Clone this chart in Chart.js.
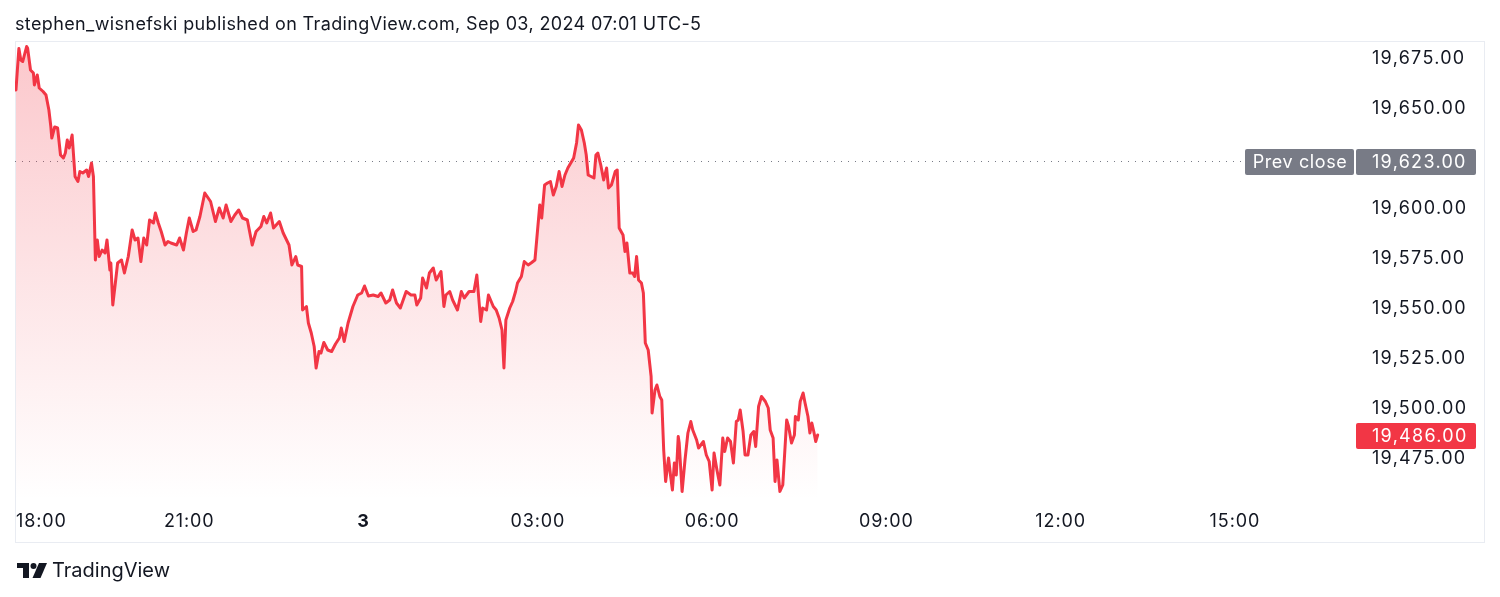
<!DOCTYPE html>
<html>
<head>
<meta charset="utf-8">
<title>NQ intraday - TradingView</title>
<script src="https://cdn.jsdelivr.net/npm/chart.js@4.4.1/dist/chart.umd.min.js"></script>
<style>
  html, body { margin: 0; padding: 0; background: #ffffff; }
  #wrap { width: 1500px; height: 597px; }
</style>
</head>
<body>
<div id="wrap"><canvas id="priceChart" width="1500" height="597"></canvas></div>
<script>
// Minutes after 18:00 (session open), one entry per traced point
const sessionMinutes = [
    1, 4, 6, 8, 12, 13, 16, 19, 20, 23, 25, 29, 32, 35, 37, 38, 41, 44, 47, 50,
    52, 54, 56, 59, 62, 65, 67, 70, 74, 76, 79, 81, 83, 85, 87, 90, 93, 95, 98, 99,
    101, 104, 106, 110, 113, 117, 121, 124, 127, 130, 133, 136, 139, 143, 145, 148, 151, 155, 158, 161,
    167, 170, 174, 177, 180, 184, 187, 191, 196, 202, 207, 211, 215, 218, 223, 227, 231, 235, 240, 245,
    249, 254, 257, 260, 264, 267, 273, 277, 283, 286, 290, 292, 296, 297, 301, 303, 306, 309, 311, 314,
    316, 319, 323, 327, 331, 335, 337, 340, 344, 349, 354, 358, 361, 365, 370, 375, 378, 383, 387, 390,
    394, 398, 404, 409, 413, 415, 419, 421, 425, 428, 432, 435, 440, 443, 445, 449, 452, 457, 461, 464,
    469, 474, 477, 481, 483, 487, 489, 494, 497, 500, 503, 505, 507, 511, 514, 517, 519, 523, 526, 530,
    533, 537, 539, 542, 544, 547, 550, 553, 556, 559, 562, 565, 568, 571, 574, 577, 580, 582, 585, 588,
    590, 592, 595, 598, 600, 602, 605, 608, 611, 613, 616, 620, 622, 624, 628, 630, 632, 635, 638, 640,
    642, 644, 647, 649, 651, 654, 657, 658, 661, 663, 666, 668, 670, 672, 675, 677, 679, 681, 683, 685,
    686, 689, 692, 695, 698, 700, 704, 706, 711, 714, 717, 720, 722, 725, 728, 731, 733, 736, 739, 742,
    745, 747, 749, 752, 754, 757, 760, 763, 765, 768, 771, 775, 778, 780, 783, 785, 787, 790, 793, 797,
    799, 802, 805, 806, 809, 811, 814, 816, 819, 821, 823, 825, 827, 829
];

// Price at each of those minutes
const prices = [
    19658.5, 19679.25, 19673.5, 19672.75, 19680.25, 19679.5, 19668.5, 19667, 19661, 19666,
    19659.5, 19657.75, 19656, 19648.5, 19640.25, 19634.5, 19640, 19639.5, 19626, 19624.5,
    19627, 19633.5, 19629.5, 19636, 19615.25, 19612.75, 19617.75, 19617, 19618.5, 19615.25,
    19622, 19615.25, 19573.5, 19583.5, 19575.25, 19578.5, 19577, 19583.5, 19568.5, 19572,
    19551, 19563.5, 19572, 19573.5, 19567, 19575.25, 19588.5, 19583.5, 19584.5, 19572.75,
    19584.5, 19581, 19593.5, 19592, 19597, 19592, 19587.75, 19581, 19582.75, 19582,
    19581, 19584.5, 19578.5, 19587, 19594.5, 19587.75, 19588.5, 19595.25, 19607, 19602.75,
    19592.75, 19599.5, 19594.5, 19601, 19592.75, 19596, 19598.5, 19594.5, 19593.5, 19581,
    19587.75, 19590.25, 19595.25, 19592, 19597, 19589.5, 19592.75, 19587, 19581, 19571,
    19575.25, 19571, 19570.25, 19548.5, 19550.25, 19542, 19537, 19530.25, 19519.5, 19527.75,
    19527, 19532.25, 19528.5, 19527.75, 19531.5, 19534.5, 19539.5, 19532.75, 19542, 19550.25,
    19556, 19557, 19560.5, 19555.5, 19556, 19555.25, 19557, 19552, 19553.5, 19558.5,
    19552, 19549.5, 19557.75, 19556, 19556, 19551, 19554.5, 19564.5, 19559.5, 19567,
    19569.5, 19563.5, 19567.75, 19550.25, 19556, 19557.75, 19553.5, 19548.5, 19557.75, 19554.5,
    19557.75, 19557.75, 19566, 19542.75, 19549.5, 19548.5, 19556, 19550.25, 19548.5, 19544.5,
    19538.5, 19519.5, 19543.5, 19549.5, 19552.75, 19557.75, 19562, 19565.25, 19572.75, 19571,
    19572, 19573.5, 19584.5, 19601, 19594.5, 19611, 19612, 19612.75, 19606, 19610.25,
    19617.75, 19610.25, 19616, 19619.5, 19622, 19624.5, 19632, 19641, 19638.5, 19632,
    19626, 19616, 19615.25, 19614.5, 19626, 19627, 19621, 19613.5, 19619.5, 19609.5,
    19611, 19617.75, 19618.5, 19589.5, 19586, 19577.75, 19582, 19567, 19567, 19565.25,
    19575.25, 19563.5, 19562, 19557, 19532, 19528.5, 19515.25, 19497, 19508.5, 19511,
    19505.25, 19503.5, 19478.5, 19462.75, 19474.5, 19466, 19458.5, 19472, 19466, 19485.25,
    19482, 19457.75, 19473.5, 19487, 19492.75, 19488.5, 19483.5, 19479.5, 19482.75, 19476,
    19472.75, 19458.5, 19477, 19468.5, 19461, 19484.5, 19477.75, 19484.5, 19482.75, 19472,
    19492.75, 19493.5, 19498.5, 19487.75, 19476, 19476, 19486, 19487.75, 19480.25, 19500.25,
    19505.25, 19502.75, 19499.5, 19488.5, 19484.5, 19462.75, 19473.5, 19457.75, 19461, 19493.5,
    19490.25, 19482, 19486, 19495.25, 19493.5, 19502.75, 19507, 19502, 19495.25, 19487,
    19492, 19487.75, 19482.75, 19486
];

const prevClose = 19623;
const priceTicks = [19475, 19500, 19525, 19550, 19575, 19600, 19625, 19650, 19675];
const timeTicks = [0, 180, 360, 540, 720, 900, 1080, 1260];
const timeLabels = ['18:00', '21:00', '3', '03:00', '06:00', '09:00', '12:00', '15:00'];

const titleText = 'stephen_wisnefski published on TradingView.com, Sep 03, 2024 07:01 UTC-5';

const RED = '#f23645';
const GREY = '#787b86';
const TEXT = '#131722';
const FONT = 'Inter, "Noto Sans", sans-serif';

function fmtPrice(v) {
    return v.toLocaleString('en-US', { minimumFractionDigits: 2, maximumFractionDigits: 2 });
}

function roundBox(ctx, x, y, w, h, r) {
    ctx.beginPath();
    if (ctx.roundRect) ctx.roundRect(x, y, w, h, r);
    else ctx.rect(x, y, w, h);
    ctx.fill();
}

// Page furniture, prev close line and price badges
const tvDecor = {
    id: 'tvDecor',
    beforeDraw(chart) {
        const ctx = chart.ctx;
        ctx.save();
        ctx.fillStyle = '#ffffff';
        ctx.fillRect(0, 0, chart.width, chart.height);

        ctx.fillStyle = TEXT;
        ctx.font = '18px ' + FONT;
        ctx.letterSpacing = '0.37px';
        ctx.textBaseline = 'middle';
        ctx.textAlign = 'left';
        ctx.fillText(titleText, 15, 25);

        // frame
        ctx.strokeStyle = '#e9ecf2';
        ctx.lineWidth = 1;
        ctx.strokeRect(15.5, 41.5, 1469, 501);

        // logo
        ctx.fillStyle = TEXT;
        ctx.fillRect(17, 563, 12, 5);
        ctx.fillRect(23, 563, 6, 15);
        ctx.beginPath();
        ctx.arc(33.5, 566, 3, 0, Math.PI * 2);
        ctx.fill();
        ctx.beginPath();
        ctx.moveTo(39, 563);
        ctx.lineTo(47, 563);
        ctx.lineTo(40.5, 578);
        ctx.lineTo(32.5, 578);
        ctx.closePath();
        ctx.fill();
        ctx.font = '20px ' + FONT;
        ctx.letterSpacing = '0px';
        ctx.fillText('TradingView', 52, 571);
        ctx.restore();
        // wider tracking for the price scale labels drawn next
        ctx.letterSpacing = '1.3px';
    },
    beforeDatasetsDraw(chart) {
        const ctx = chart.ctx;
        const area = chart.chartArea;
        const y = Math.round(chart.scales.y.getPixelForValue(prevClose)) + 0.5;
        ctx.save();
        ctx.strokeStyle = GREY;
        ctx.lineWidth = 1;
        ctx.setLineDash([1, 6]);
        ctx.beginPath();
        ctx.moveTo(area.left, y);
        ctx.lineTo(1245, y);
        ctx.stroke();
        ctx.restore();
    },
    afterDraw(chart) {
        const ctx = chart.ctx;
        const area = chart.chartArea;
        const xs = chart.scales.x;
        const ys = chart.scales.y;
        ctx.save();

        // time axis labels
        ctx.textBaseline = 'middle';
        ctx.textAlign = 'center';
        ctx.fillStyle = TEXT;
        ctx.letterSpacing = '0.9px';
        timeTicks.forEach((t, i) => {
            const bold = timeLabels[i] === '3';
            ctx.font = (bold ? 'bold ' : '') + '18px ' + FONT;
            const w = ctx.measureText(timeLabels[i]).width;
            const px = Math.max(xs.getPixelForValue(t), area.left + 1 + w / 2);
            ctx.fillText(timeLabels[i], px, 522);
        });

        // prev close badges
        ctx.font = '18px ' + FONT;
        ctx.letterSpacing = '0.6px';
        const pcY = ys.getPixelForValue(prevClose);
        ctx.fillStyle = GREY;
        roundBox(ctx, 1245, pcY - 12, 109, 26, 2);
        roundBox(ctx, 1356, pcY - 12, 120, 26, 2);
        ctx.fillStyle = '#ffffff';
        ctx.textAlign = 'center';
        ctx.fillText('Prev close', 1300, pcY + 2);
        ctx.letterSpacing = '1.3px';
        ctx.textAlign = 'left';
        ctx.fillText(fmtPrice(prevClose), 1372, pcY + 2);

        // last price badge
        const last = prices[prices.length - 1];
        const lY = ys.getPixelForValue(last);
        ctx.fillStyle = RED;
        roundBox(ctx, 1356, lY - 12, 120, 26, 2);
        ctx.fillStyle = '#ffffff';
        ctx.fillText(fmtPrice(last), 1372, lY + 2);
        ctx.restore();
        ctx.letterSpacing = '0px';
    }
};

function initializeChart() {
    const canvas = document.getElementById('priceChart');
    const points = sessionMinutes.map((m, i) => ({ x: m, y: prices[i] }));

    new Chart(canvas, {
        type: 'line',
        data: {
            datasets: [{
                label: 'NQ',
                data: points,
                borderColor: RED,
                borderWidth: 3,
                borderJoinStyle: 'round',
                borderCapStyle: 'round',
                pointRadius: 0,
                tension: 0,
                fill: 'start',
                backgroundColor(context) {
                    const { ctx, chartArea } = context.chart;
                    if (!chartArea) return 'rgba(242, 54, 69, 0.15)';
                    const g = ctx.createLinearGradient(0, chartArea.top, 0, chartArea.bottom);
                    g.addColorStop(0, 'rgba(242, 54, 69, 0.28)');
                    g.addColorStop(1, 'rgba(242, 54, 69, 0.0)');
                    return g;
                }
            }]
        },
        options: {
            responsive: false,
            animation: false,
            devicePixelRatio: 1,
            layout: { padding: { left: 15, top: 42, right: 16, bottom: 55 } },
            plugins: {
                legend: { display: false },
                tooltip: { enabled: false }
            },
            scales: {
                x: {
                    type: 'linear',
                    min: 0,
                    max: 1384,
                    grid: { display: false, drawTicks: false },
                    border: { display: false },
                    ticks: { display: false },
                    afterBuildTicks: s => { s.ticks = timeTicks.map(v => ({ value: v })); },
                    afterFit: s => { s.height = 42; }
                },
                y: {
                    position: 'right',
                    min: 19453.5,
                    max: 19682.5,
                    grid: { display: false, drawTicks: false },
                    border: { display: false },
                    afterBuildTicks: s => { s.ticks = priceTicks.map(v => ({ value: v })); },
                    afterFit: s => { s.width = 129; },
                    ticks: {
                        padding: 17,
                        labelOffset: 2,
                        color: TEXT,
                        font: { family: FONT, size: 18 },
                        callback: v => fmtPrice(v)
                    }
                }
            }
        },
        plugins: [tvDecor]
    });
}

document.addEventListener('DOMContentLoaded', initializeChart);
</script>
</body>
</html>
